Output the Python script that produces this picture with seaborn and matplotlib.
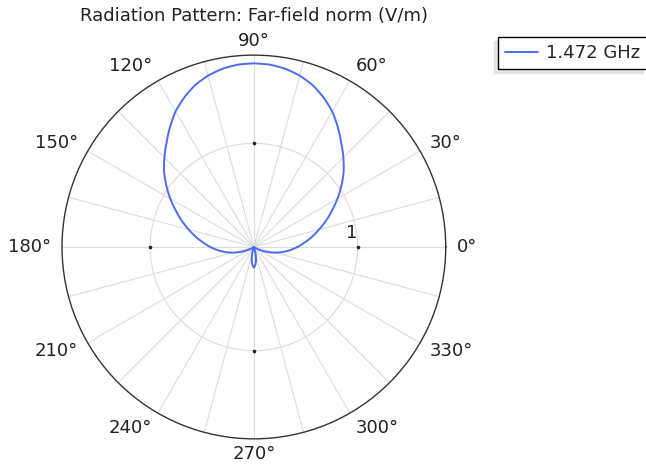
import numpy as np
import pandas as pd
import matplotlib
matplotlib.use('Agg')
import matplotlib.pyplot as plt
import seaborn as sns

# angle (deg) and far-field norm (V/m), 5 deg steps
angle_deg = list(range(0, 365, 5))
# 0..90 deg, the main lobe is symmetric about 90 deg
upper_q = [0.42, 0.49, 0.57, 0.65, 0.74, 0.83, 0.93, 1.03, 1.13, 1.22,
           1.31, 1.41, 1.51, 1.59, 1.66, 1.71, 1.745, 1.765, 1.77]
# 180..270 deg (mirrored for 270..360)
lower_q = [0.42, 0.35, 0.28, 0.21, 0.14, 0.08, 0.03, 0.01, 0.0, 0.0,
           0.0, 0.0, 0.0, 0.0, 0.0, 0.05, 0.12, 0.17, 0.20]
far_field = upper_q + upper_q[-2::-1] + lower_q[1:] + lower_q[-2::-1]
freq_label = '1.472 GHz'
theta_ticks = list(range(0, 360, 30))
theta_labels = ['0°', '30°', '60°', '90°', '120°', '150°',
                '180°', '210°', '240°', '270°', '300°', '330°']
r_ticks = [1]
r_max = 1.85

df = pd.DataFrame({'theta': np.deg2rad(angle_deg), 'r': far_field})

sns.set_theme(style='white')
plt.rcParams['font.family'] = ['DejaVu Sans']

fig = plt.figure(figsize=(6.46, 4.66), dpi=100)
ax = fig.add_axes([0.096, 0.058, 0.594, 0.824], projection='polar')

sns.lineplot(data=df, x='theta', y='r', ax=ax, sort=False, color='#4d6cf0',
             linewidth=1.4, label=freq_label, legend=False)
for ln in ax.get_lines():
    ln.get_path()._interpolation_steps = 8

ax.set_rlim(0, r_max)
ax.set_rticks(r_ticks)
ax.set_yticklabels([])
for rv in r_ticks:
    ax.text(np.deg2rad(2.5), rv * 0.995, str(rv), ha='right', va='bottom',
            fontsize=13, color='#222222')
    # little ticks where the r circle meets the axes
    ax.plot(np.deg2rad([0, 90, 180, 270]), [rv] * 4, ls='', marker='o', ms=1.6,
            color='#222222', zorder=1)

# grid every 15 deg, labels every 30 deg placed just outside the rim
ax.set_thetagrids(list(range(0, 360, 15)), [''] * 24)
for ang, lab in zip(theta_ticks, theta_labels):
    a = np.deg2rad(ang)
    c, s = np.cos(a), np.sin(a)
    if ang == 90:
        ha, va, off = 'center', 'bottom', (0, 5)
    elif ang == 270:
        ha, va, off = 'center', 'top', (0, -6)
    else:
        ha = 'left' if c > 0 else 'right'
        va = 'center'
        off = (11 * c, 17 * s)
    ax.annotate(lab, xy=(a, r_max), xytext=off, textcoords='offset pixels',
                ha=ha, va=va, fontsize=13, color='#222222', annotation_clip=False)
ax.grid(True, color='#dcdcdc', linewidth=0.8)
ax.spines['polar'].set_color('#333333')
ax.spines['polar'].set_linewidth(1.0)
ax.set_xlabel('')
ax.set_ylabel('')

fig.text(0.393, 0.966, 'Radiation Pattern: Far-field norm (V/m)', ha='center',
         va='center', fontsize=13, color='#222222')

handles, labels = ax.get_legend_handles_labels()
handles = [h for h, l in zip(handles, labels) if l == freq_label]
leg = fig.legend(handles, [freq_label], loc='upper left', bbox_to_anchor=(0.771, 0.921),
                 fontsize=13, frameon=True, fancybox=False, edgecolor='black',
                 handlelength=1.8, handletextpad=0.45,
                 shadow={'ox': -3, 'oy': -3, 'color': '#d0d0d0'}, borderaxespad=0)
leg.get_frame().set_linewidth(1.0)

fig.savefig('out.png', dpi=100)
